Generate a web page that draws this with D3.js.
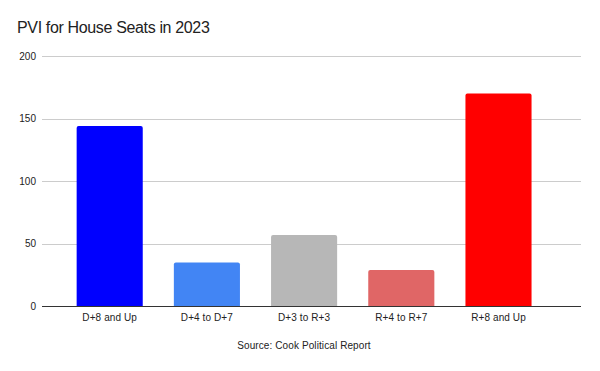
<!DOCTYPE html>
<html><head><meta charset="utf-8">
<script src="https://cdn.jsdelivr.net/npm/d3@7"></script>
<style>body{margin:0;background:#fff}svg{display:block;font-family:"Liberation Sans",Arial,sans-serif}</style>
</head><body><svg id="c" width="600" height="371"></svg>
<script>
const categories = ["D+8 and Up","D+4 to D+7","D+3 to R+3","R+4 to R+7","R+8 and Up"];
const seats = [144, 35, 57, 29, 170];
const barColors = ["#0000ff","#4285f4","#b7b7b7","#e06666","#ff0000"];
const yTicks = [0, 50, 100, 150, 200];
const titleText = "PVI for House Seats in 2023";
const sourceText = "Source: Cook Political Report";

const svg = d3.select("#c");
svg.append("rect").attr("width",600).attr("height",371).attr("fill","#fff");
const x = d3.scaleBand().domain(categories).range([61.1, 547.1]).paddingInner(0.32).paddingOuter(0.16);
const y = d3.scaleLinear().domain([0, 200]).range([306.3, 56]);

svg.append("text").attr("x",17).attr("y",32.5).attr("font-size",16).attr("letter-spacing",-0.35).attr("fill","#222").text(titleText);

const grid = svg.append("g");
grid.selectAll("line").data(yTicks.filter(d=>d>0)).join("line")
  .attr("x1",42).attr("x2",581).attr("y1",d=>Math.round(y(d))+0.5).attr("y2",d=>Math.round(y(d))+0.5)
  .attr("stroke","#cccccc").attr("stroke-width",1);

svg.append("g").selectAll("text").data(yTicks).join("text")
  .attr("x",36).attr("y",d=>y(d)+3.5).attr("text-anchor","end").attr("font-size",10).attr("fill","#222")
  .text(d=>d);

svg.append("g").selectAll("path").data(seats).join("path")
  .attr("fill",(d,i)=>barColors[i])
  .attr("d",(d,i)=>{
    const x0 = x(categories[i]), w = x.bandwidth(), y0 = y(d), y1 = y(0), r = 2;
    return `M${x0},${y1}V${y0+r}Q${x0},${y0} ${x0+r},${y0}H${x0+w-r}Q${x0+w},${y0} ${x0+w},${y0+r}V${y1}Z`;
  });

svg.append("line").attr("x1",42).attr("x2",581).attr("y1",306.5).attr("y2",306.5).attr("stroke","#333").attr("stroke-width",1);

svg.append("g").selectAll("text").data(categories).join("text")
  .attr("x",d=>x(d)+x.bandwidth()/2).attr("y",321).attr("text-anchor","middle").attr("font-size",10).attr("letter-spacing",0.1).attr("fill","#222")
  .text(d=>d);

svg.append("text").attr("x",304).attr("y",349).attr("text-anchor","middle").attr("font-size",10).attr("letter-spacing",0.1).attr("fill","#222").text(sourceText);
</script></body></html>
